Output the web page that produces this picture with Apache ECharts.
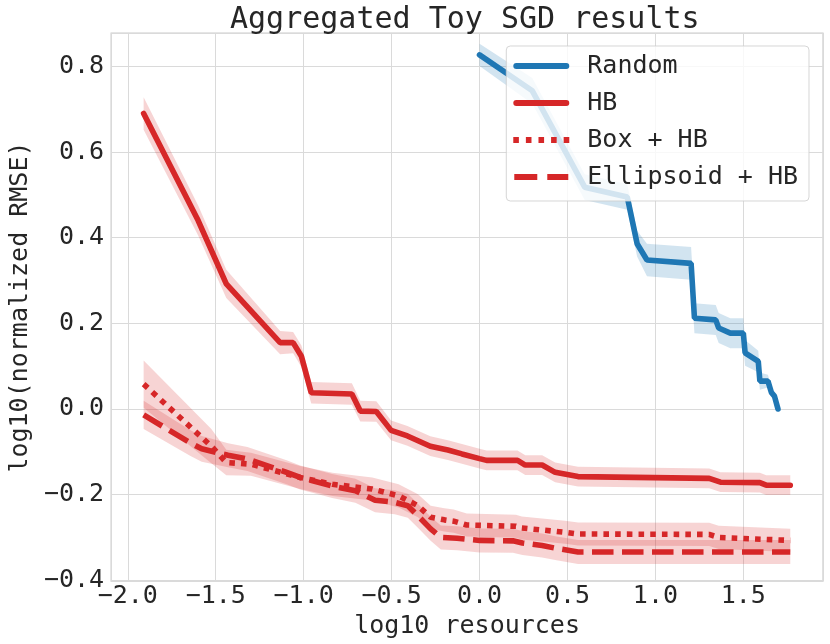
<!DOCTYPE html>
<html>
<head>
<meta charset="utf-8">
<script src="https://cdn.jsdelivr.net/npm/echarts@6/dist/echarts.min.js"></script>
<style>
    html, body { margin: 0; padding: 0; background: #fff; }
    #chart { width: 830px; height: 644px; }
</style>
</head>
<body>
<div id="chart"></div>
<script>
// values: x = log10 resources, y = mean, err = half width of the band
var randomX = [0.0, 0.30, 0.598, 0.84, 0.896, 0.952, 1.203, 1.222, 1.343, 1.36, 1.426, 1.50, 1.51, 1.585, 1.594, 1.64, 1.66, 1.677, 1.697];
var randomY = [0.827, 0.743, 0.518, 0.495, 0.386, 0.348, 0.34, 0.212, 0.208, 0.189, 0.177, 0.177, 0.131, 0.111, 0.065, 0.065, 0.038, 0.03, 0.0];
var randomErr = [0.026, 0.03, 0.03, 0.03, 0.03, 0.038, 0.038, 0.035, 0.035, 0.035, 0.035, 0.035, 0.03, 0.025, 0.02, 0.015, 0.01, 0.008, 0.005];

var hbX = [-1.91, -1.60, -1.44, -1.134, -1.06, -1.013, -0.957, -0.726, -0.678, -0.587, -0.503, -0.41, -0.28, -0.18, -0.1, 0.0, 0.04, 0.216, 0.26, 0.356, 0.43, 0.56, 1.306, 1.37, 1.594, 1.63, 1.767];
var hbY = [0.69, 0.44, 0.292, 0.155, 0.155, 0.123, 0.038, 0.035, -0.005, -0.006, -0.05, -0.063, -0.087, -0.096, -0.105, -0.116, -0.12, -0.12, -0.131, -0.131, -0.148, -0.158, -0.162, -0.171, -0.172, -0.178, -0.178];
var hbErr = [0.038, 0.035, 0.033, 0.027, 0.025, 0.025, 0.025, 0.025, 0.024, 0.024, 0.023, 0.023, 0.023, 0.023, 0.023, 0.023, 0.023, 0.023, 0.023, 0.023, 0.023, 0.023, 0.023, 0.023, 0.023, 0.023, 0.023];

var boxX = [-1.91, -1.525, -1.44, -1.30, -1.02, -0.836, -0.61, -0.46, -0.35, -0.278, -0.20, -0.147, -0.073, 0.207, 0.24, 0.486, 0.56, 1.306, 1.36, 1.767];
var boxY = [0.058, -0.087, -0.125, -0.129, -0.16, -0.176, -0.187, -0.203, -0.226, -0.253, -0.259, -0.262, -0.271, -0.274, -0.278, -0.288, -0.292, -0.293, -0.30, -0.307];
var boxErr = [0.055, 0.04, 0.03, 0.027, 0.027, 0.027, 0.027, 0.027, 0.027, 0.027, 0.027, 0.027, 0.027, 0.027, 0.027, 0.027, 0.027, 0.027, 0.027, 0.027];

var ellX = [-1.91, -1.646, -1.58, -1.43, -1.32, -1.097, -1.02, -0.838, -0.706, -0.594, -0.482, -0.408, -0.352, -0.278, -0.22, -0.128, 0.0, 0.19, 0.244, 0.356, 0.43, 0.56, 1.767];
var ellY = [-0.014, -0.079, -0.093, -0.108, -0.117, -0.148, -0.16, -0.18, -0.191, -0.213, -0.218, -0.226, -0.249, -0.28, -0.30, -0.302, -0.307, -0.308, -0.313, -0.319, -0.325, -0.334, -0.334];
var ellErr = [0.033, 0.03, 0.03, 0.028, 0.028, 0.028, 0.028, 0.028, 0.028, 0.028, 0.028, 0.028, 0.028, 0.028, 0.028, 0.028, 0.028, 0.028, 0.028, 0.028, 0.028, 0.028, 0.028];

var seriesNames = ['Random', 'HB', 'Box + HB', 'Ellipsoid + HB'];

var RED = '#d62728';
var BLUE = '#1f77b4';
var FONT = 'DejaVu Sans Mono';

// legend handles, 56 x 6 each
var ICON_SOLID = 'path://M3,0h50a3,3 0 0 1 0,6h-50a3,3 0 0 1 0,-6z';
var ICON_DOTTED = 'path://M0,0h5.6v6h-5.6z M12.6,0h5.6v6h-5.6z M25.2,0h5.6v6h-5.6z M37.8,0h5.6v6h-5.6z M50.4,0h5.6v6h-5.6z';
var ICON_DASHED = 'path://M1,0h23v6h-23z M34,0h21v6h-21z M0,0 M56,6';

function pairs(xs, ys) {
    var out = [];
    for (var i = 0; i < xs.length; i++) {
        out.push([xs[i], ys[i]]);
    }
    return out;
}

// shaded band drawn as a polygon through the axes' own coordinates
function band(xs, ys, errs, fill) {
    return {
        type: 'custom',
        silent: true,
        z: 1,
        data: [[xs[0], ys[0]]],
        renderItem: function (params, api) {
            var pts = [];
            for (var i = 0; i < xs.length; i++) {
                pts.push(api.coord([xs[i], ys[i] + errs[i]]));
            }
            for (var j = xs.length - 1; j >= 0; j--) {
                pts.push(api.coord([xs[j], ys[j] - errs[j]]));
            }
            return {
                type: 'polygon',
                shape: { points: pts },
                style: { fill: fill }
            };
        }
    };
}

function line(name, xs, ys, color, dash) {
    return {
        name: name,
        type: 'line',
        data: pairs(xs, ys),
        symbol: 'none',
        z: 3,
        color: color,
        lineStyle: {
            color: color,
            width: 5.6,
            type: dash,
            cap: dash === 'solid' ? 'round' : 'butt'
        }
    };
}

function tickText(v) {
    var r = Math.round(v * 10) / 10;
    if (Math.abs(v - r) > 1e-6) return '';
    return r.toFixed(1).replace('-', '\u2212');
}

var chart = echarts.init(document.getElementById('chart'));

var option = {
    backgroundColor: '#fff',
    animation: false,
    title: {
        text: 'Aggregated Toy SGD results',
        left: 225,
        top: 0,
        textStyle: { fontFamily: FONT, fontSize: 30, fontWeight: 'normal', color: '#262626' }
    },
    grid: {
        left: 98,
        right: 7,
        top: 33,
        bottom: 62,
        show: true,
        borderColor: '#cccccc',
        borderWidth: 1.2
    },
    legend: {
        data: [
            { name: seriesNames[0], icon: ICON_SOLID },
            { name: seriesNames[1], icon: ICON_SOLID },
            { name: seriesNames[2], icon: ICON_DOTTED },
            { name: seriesNames[3], icon: ICON_DASHED }
        ],
        orient: 'vertical',
        right: 21,
        top: 46,
        itemWidth: 56,
        itemHeight: 28,
        itemGap: 9,
        symbolKeepAspect: true,
        padding: [6, 11, 10, 7],
        itemStyle: { borderWidth: 0 },
        backgroundColor: 'rgba(255,255,255,0.8)',
        borderColor: 'rgba(204,204,204,0.8)',
        borderWidth: 1,
        borderRadius: 4,
        textStyle: {
            fontFamily: FONT,
            fontSize: 25,
            lineHeight: 28,
            color: '#262626',
            padding: [0, 0, 0, 13]
        }
    },
    xAxis: {
        type: 'value',
        min: -2.095,
        max: 1.953,
        splitNumber: 8,
        name: 'log10 resources',
        nameLocation: 'middle',
        nameGap: 29,
        nameTextStyle: { fontFamily: FONT, fontSize: 25, color: '#262626' },
        axisLine: { show: false },
        axisTick: { show: false },
        axisLabel: {
            fontFamily: FONT,
            fontSize: 25,
            color: '#262626',
            margin: 3,
            showMinLabel: false,
            showMaxLabel: false,
            formatter: tickText
        },
        splitLine: { lineStyle: { color: '#dadada', width: 1 } }
    },
    yAxis: {
        type: 'value',
        min: -0.402,
        max: 0.878,
        splitNumber: 6,
        name: 'log10(normalized RMSE)',
        nameLocation: 'middle',
        nameGap: 68,
        nameTextStyle: { fontFamily: FONT, fontSize: 25, color: '#262626' },
        axisLine: { show: false },
        axisTick: { show: false },
        axisLabel: {
            fontFamily: FONT,
            fontSize: 25,
            color: '#262626',
            margin: 7,
            showMinLabel: false,
            showMaxLabel: false,
            formatter: tickText
        },
        splitLine: { lineStyle: { color: '#dadada', width: 1 } }
    },
    series: [
        band(randomX, randomY, randomErr, 'rgba(31,119,180,0.2)'),
        band(hbX, hbY, hbErr, 'rgba(214,39,40,0.2)'),
        band(boxX, boxY, boxErr, 'rgba(214,39,40,0.2)'),
        band(ellX, ellY, ellErr, 'rgba(214,39,40,0.2)'),
        line('Random', randomX, randomY, BLUE, 'solid'),
        line('HB', hbX, hbY, RED, 'solid'),
        line('Box + HB', boxX, boxY, RED, [5.6, 6.1]),
        line('Ellipsoid + HB', ellX, ellY, RED, [21.5, 8.5])
    ]
};

chart.setOption(option);
</script>
</body>
</html>
